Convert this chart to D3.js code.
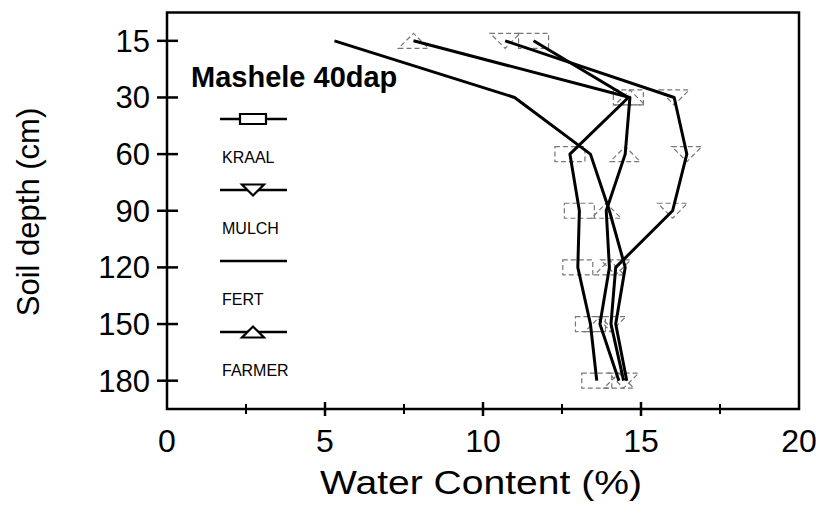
<!DOCTYPE html>
<html>
<head>
<meta charset="utf-8">
<script src="https://cdn.jsdelivr.net/npm/d3@7"></script>
<style>
  body { margin: 0; background: #fff; }
  svg { display: block; }
  text { font-family: "Liberation Sans", Arial, sans-serif; fill: #000; }
</style>
</head>
<body>
<svg id="chart" width="816" height="514"></svg>
<script>
// soil depth (cm) on the y axis, water content (%) on x
const depths = [15, 30, 60, 90, 120, 150, 180];
const kraal  = [11.6, 14.6, 12.75, 13.05, 13.0, 13.4, 13.6];
const mulch  = [10.7, 16.05, 16.45, 16.0, 14.2, 14.05, 14.45];
const fert   = [5.3, 11.0, 13.4, 14.0, 14.5, 14.2, 14.55];
const farmer = [7.8, 14.65, 14.5, 13.9, 14.0, 13.7, 14.3];
const seriesNames = ["KRAAL", "MULCH", "FERT", "FARMER"];
const xTicks = [0, 5, 10, 15, 20];
const xMinor = [2.5, 7.5, 12.5, 17.5];

const series = [
  {name: seriesNames[0], values: kraal, marker: "rect"},
  {name: seriesNames[1], values: mulch, marker: "down"},
  {name: seriesNames[2], values: fert, marker: null},
  {name: seriesNames[3], values: farmer, marker: "up"}
];

const svg = d3.select("#chart");
const margin = {left: 167, right: 799, top: 12.5, bottom: 409};

const x = d3.scaleLinear().domain([0, 20]).range([margin.left, margin.right]);
const y = d3.scalePoint().domain(depths.map(String)).range([margin.top, margin.bottom]).padding(0.5);

// marker shapes, centred on 0,0
function markerPath(type, w, h) {
  if (type == "rect") return `M${-w/2},${-h/2}H${w/2}V${h/2}H${-w/2}Z`;
  if (type == "down") return `M${-w/2},${-h/2}H${w/2}L0,${h/2}Z`;
  if (type == "up") return `M${-w/2},${h/2}H${w/2}L0,${-h/2}Z`;
  return "";
}

// frame
svg.append("rect")
  .attr("x", margin.left).attr("y", margin.top)
  .attr("width", margin.right - margin.left).attr("height", margin.bottom - margin.top)
  .attr("fill", "none").attr("stroke", "#000").attr("stroke-width", 2.5);

// y ticks cross the axis
const yAxis = svg.append("g");
yAxis.selectAll("line")
  .data(depths)
  .join("line")
  .attr("x1", margin.left - 10).attr("x2", margin.left + 11)
  .attr("y1", d => y(String(d))).attr("y2", d => y(String(d)))
  .attr("stroke", "#000").attr("stroke-width", 2.5);
yAxis.selectAll("text")
  .data(depths)
  .join("text")
  .attr("x", 150)
  .attr("y", d => y(String(d)) + 11)
  .attr("text-anchor", "end")
  .style("font-size", "31px")
  .text(d => d);

// x ticks
const xAxis = svg.append("g");
xAxis.selectAll("line.major")
  .data(xTicks.slice(1, -1))
  .join("line").attr("class", "major")
  .attr("x1", d => x(d)).attr("x2", d => x(d))
  .attr("y1", margin.bottom - 7).attr("y2", margin.bottom + 7)
  .attr("stroke", "#000").attr("stroke-width", 2.5);
xAxis.selectAll("line.minor")
  .data(xMinor)
  .join("line").attr("class", "minor")
  .attr("x1", d => x(d)).attr("x2", d => x(d))
  .attr("y1", margin.bottom - 5).attr("y2", margin.bottom + 5)
  .attr("stroke", "#000").attr("stroke-width", 2);
xAxis.selectAll("text")
  .data(xTicks)
  .join("text")
  .attr("x", d => x(d))
  .attr("y", 452)
  .attr("text-anchor", "middle")
  .style("font-size", "32px")
  .text(d => d);

// axis titles
svg.append("text")
  .attr("x", 481).attr("y", 494)
  .attr("text-anchor", "middle")
  .attr("textLength", 322)
  .attr("lengthAdjust", "spacingAndGlyphs")
  .style("font-size", "34px")
  .text("Water Content (%)");
svg.append("text")
  .attr("transform", "translate(39,212) rotate(-90)")
  .attr("text-anchor", "middle")
  .style("font-size", "31px")
  .text("Soil depth (cm)");

// markers (faint dashed, as in the scan)
series.filter(s => s.marker).forEach(s => {
  svg.append("g").selectAll("path")
    .data(s.values.map((v, i) => [v, depths[i]]))
    .join("path")
    .attr("transform", d => `translate(${x(d[0])},${y(String(d[1]))})`)
    .attr("d", markerPath(s.marker, 30, 15))
    .attr("fill", "none")
    .attr("stroke", "#777")
    .attr("stroke-width", 1.2)
    .attr("stroke-dasharray", "5,3");
});

// lines
const line = d3.line()
  .x(d => x(d[0]))
  .y(d => y(String(d[1])));
series.forEach(s => {
  svg.append("path")
    .datum(s.values.map((v, i) => [v, depths[i]]))
    .attr("d", line)
    .attr("fill", "none")
    .attr("stroke", "#000")
    .attr("stroke-width", 3)
    .attr("stroke-linejoin", "round");
});

// legend
svg.append("text")
  .attr("x", 191).attr("y", 87)
  .style("font-size", "29px")
  .style("font-weight", "bold")
  .text("Mashele 40dap");

const legend = svg.append("g");
series.forEach((s, i) => {
  const ly = 119 + i * 71;
  legend.append("line")
    .attr("x1", 220).attr("x2", 287)
    .attr("y1", ly).attr("y2", ly)
    .attr("stroke", "#000").attr("stroke-width", 2.5);
  if (s.marker) {
    legend.append("path")
      .attr("transform", `translate(253,${ly})`)
      .attr("d", markerPath(s.marker, s.marker == "rect" ? 26 : 22, s.marker == "rect" ? 10 : 11))
      .attr("fill", "#fff")
      .attr("stroke", "#000")
      .attr("stroke-width", 2.2);
  }
  legend.append("text")
    .attr("x", 222).attr("y", ly + 44)
    .style("font-size", "16px")
    .text(s.name);
});
</script>
</body>
</html>
